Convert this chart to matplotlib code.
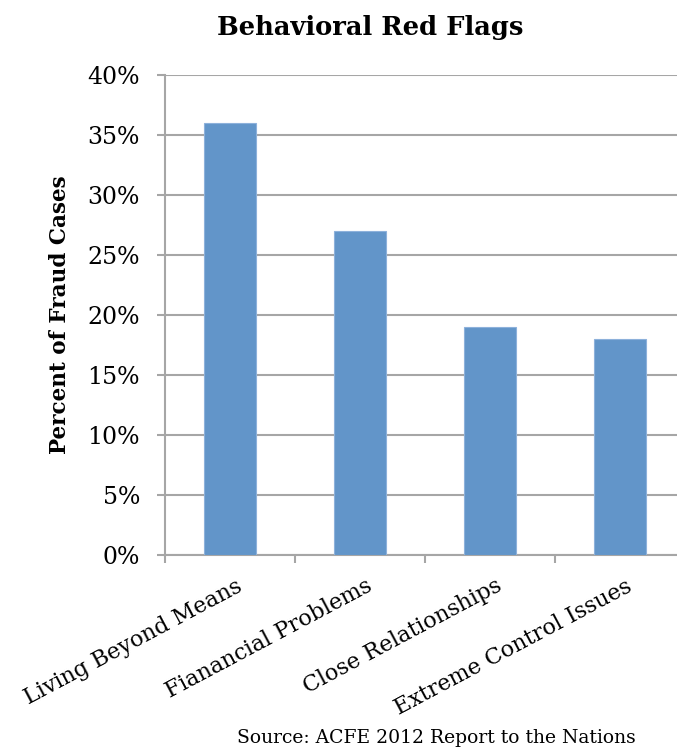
import matplotlib.pyplot as plt
from matplotlib.ticker import FuncFormatter

# Red flag categories and share of fraud cases (%)
categories = ["Living Beyond Means", "Fianancial Problems",
              "Close Relationships", "Extreme Control Issues"]
percent = [36, 27, 19, 18]
yticks = [0, 5, 10, 15, 20, 25, 30, 35, 40]

serif = "DejaVu Serif"

fig = plt.figure(figsize=(6.77, 7.51), dpi=100)
ax = fig.add_axes([165 / 677, 196 / 751, 520 / 677, 480 / 751])

x = range(len(categories))
ax.bar(x, percent, width=0.4, color="#6295C9", edgecolor="#8DB1DB",
       linewidth=0.8, zorder=3)

ax.set_xlim(-0.5, len(categories) - 0.5)
ax.set_ylim(0, 40)
ax.set_yticks(yticks)
ax.yaxis.set_major_formatter(FuncFormatter(lambda v, p: f"{v:.0f}%"))
ax.grid(axis="y", color="#A6A6A6", linewidth=1.5, zorder=0)

# tick marks sit on the category boundaries, labels are placed separately
ax.set_xticks([i - 0.5 for i in range(len(categories) + 1)])
ax.set_xticklabels([])
for i, name in enumerate(categories):
    ax.annotate(name, xy=(i + 0.04, 0), xycoords=("data", "data"),
                xytext=(0, -20), textcoords="offset pixels",
                rotation=28, ha="right", va="top", rotation_mode="anchor",
                fontsize=16, family=serif)

for s in ["top", "right"]:
    ax.spines[s].set_visible(False)
for s in ["left", "bottom"]:
    ax.spines[s].set_color("#A6A6A6")
    ax.spines[s].set_linewidth(1.5)
ax.tick_params(axis="both", color="#A6A6A6", width=1.5, length=6)
ax.tick_params(axis="y", labelsize=17, pad=12)
for lbl in ax.get_yticklabels():
    lbl.set_family(serif)

ax.set_ylabel("Percent of Fraud Cases", fontsize=15.5, fontweight="bold",
              family=serif, labelpad=12)
fig.text(370 / 677, 1 - 27 / 751, "Behavioral Red Flags", ha="center",
         va="center", fontsize=18.5, fontweight="bold", family=serif)
fig.text(436 / 677, 1 - 738 / 751, "Source: ACFE 2012 Report to the Nations",
         ha="center", va="center", fontsize=13.5, family=serif)

fig.savefig("out.png", dpi=100)
